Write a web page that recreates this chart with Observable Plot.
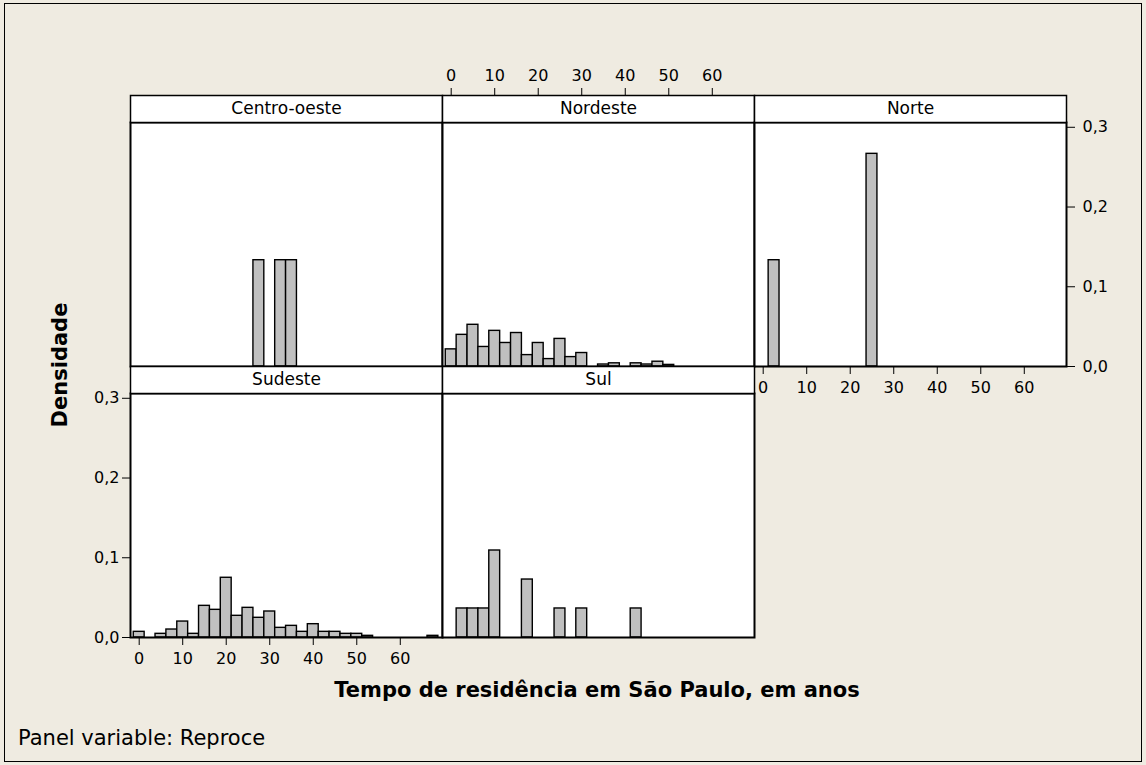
<!DOCTYPE html>
<html>
<head>
<meta charset="utf-8">
<script src="https://cdn.jsdelivr.net/npm/d3@7"></script>
<script src="https://cdn.jsdelivr.net/npm/@observablehq/plot@0.6"></script>
<style>
  html, body { margin: 0; padding: 0; background: #ffffff; }
  #chart { position: relative; width: 1146px; height: 765px; background: #EFEBE1; font-family: "DejaVu Sans", sans-serif; color: #000; overflow: hidden; }
  #border { position: absolute; left: 4px; top: 3px; width: 1136px; height: 757px; border: 1.5px solid #000; }
  .abs { position: absolute; white-space: nowrap; }
  svg { overflow: visible; }
  svg [aria-label*="axis"] text { font-size: 16px !important; font-family: "DejaVu Sans", sans-serif; fill: #000; }
</style>
</head>
<body>
<div id="chart"><div id="border"></div></div>
<script>
// ---- data ----
const panelNames = ["Centro-oeste", "Nordeste", "Norte", "Sudeste", "Sul"];
const binWidth = 2.5;

const centroOesteMid  = [27.5, 32.5, 35];
const centroOesteDens = [0.1333, 0.1333, 0.1333];

const nordesteMid  = [0, 2.5, 5, 7.5, 10, 12.5, 15, 17.5, 20, 22.5, 25, 27.5, 30, 32.5, 35, 37.5, 40, 42.5, 45, 47.5, 50];
const nordesteDens = [0.0215, 0.0397, 0.0523, 0.0245, 0.0447, 0.0295, 0.0420, 0.0143, 0.0295, 0.0093, 0.0346, 0.0118, 0.0169, 0, 0.0025, 0.0040, 0, 0.0040, 0.0025, 0.0060, 0.0020];

const norteMid  = [2.5, 25];
const norteDens = [0.1333, 0.2667];

const sudesteMid  = [0, 2.5, 5, 7.5, 10, 12.5, 15, 17.5, 20, 22.5, 25, 27.5, 30, 32.5, 35, 37.5, 40, 42.5, 45, 47.5, 50, 52.5, 55, 57.5, 60, 62.5, 65, 67.5];
const sudesteDens = [0.0071, 0, 0.0046, 0.0100, 0.0200, 0.0046, 0.0397, 0.0347, 0.0749, 0.0272, 0.0372, 0.0247, 0.0326, 0.0121, 0.0146, 0.0071, 0.0167, 0.0071, 0.0071, 0.0046, 0.0046, 0.0021, 0, 0, 0, 0, 0, 0.0021];

const sulMid  = [2.5, 5, 7.5, 10, 17.5, 25, 30, 42.5];
const sulDens = [0.0364, 0.0364, 0.0364, 0.1091, 0.0727, 0.0364, 0.0364, 0.0364];

const xTicks = [0, 10, 20, 30, 40, 50, 60];
const yTicks = [0, 0.1, 0.2, 0.3];
const xDomain = [-2, 69.7];
const yDomain = [0, 0.306];

const xTitle = "Tempo de residência em São Paulo, em anos";
const yTitle = "Densidade";
const footnote = "Panel variable: Reproce";

// ---- layout ----
const colLeft = [130, 442, 754];
const rowTop = [95, 366];
const panelW = 312, stripH = 27, plotH = 244;
const ml = 70, mr = 70, mt = 40, mb = 40;

const chart = document.getElementById("chart");
const fmtY = d => d.toFixed(1).replace(".", ",");

function toRows(mids, dens) {
  return mids.map((m, i) => ({mid: m, dens: dens[i]}));
}

function panel(name, mids, dens, col, row, xAxis, yAxis) {
  const data = toRows(mids, dens);
  const p = Plot.plot({
    width: panelW + ml + mr,
    height: stripH + plotH + mt + mb,
    marginLeft: ml, marginRight: mr, marginTop: mt, marginBottom: mb,
    style: {background: "transparent", fontFamily: "DejaVu Sans, sans-serif", fontSize: "16px", color: "#000", overflow: "visible"},
    x: {domain: xDomain, axis: xAxis, ticks: xTicks, tickSize: 8, tickPadding: 7, tickFormat: d => String(d), label: null},
    y: {domain: yDomain, insetTop: stripH, axis: yAxis, ticks: yTicks, tickSize: 8, tickPadding: yAxis === "right" ? 8 : 3, tickFormat: fmtY, label: null},
    marks: [
      Plot.frame({insetTop: stripH, fill: "white", stroke: "none"}),
      Plot.rectY(data, {x1: d => d.mid - binWidth / 2, x2: d => d.mid + binWidth / 2, y: "dens", fill: "#C0C0C0", stroke: "#000", strokeWidth: 1.4}),
      Plot.frame({insetTop: stripH, stroke: "#000", strokeWidth: 2}),
      Plot.frame({insetBottom: plotH, fill: "white", stroke: "#000", strokeWidth: 1.5}),
      Plot.text([name], {text: d => d, frameAnchor: "top", lineAnchor: "middle", dy: stripH / 2, fontSize: 17, fill: "#000"})
    ]
  });
  p.style.position = "absolute";
  p.style.left = (colLeft[col] - ml) + "px";
  p.style.top = (rowTop[row] - mt) + "px";
  chart.appendChild(p);
}

panel(panelNames[0], centroOesteMid, centroOesteDens, 0, 0, null, null);
panel(panelNames[1], nordesteMid, nordesteDens, 1, 0, "top", null);
panel(panelNames[2], norteMid, norteDens, 2, 0, "bottom", "right");
panel(panelNames[3], sudesteMid, sudesteDens, 0, 1, "bottom", "left");
panel(panelNames[4], sulMid, sulDens, 1, 1, null, null);

function addText(txt, css) {
  const d = document.createElement("div");
  d.className = "abs";
  d.textContent = txt;
  Object.assign(d.style, css);
  chart.appendChild(d);
  return d;
}

addText(xTitle, {left: "597px", top: "690px", transform: "translate(-50%, -50%)", fontWeight: "bold", fontSize: "21px"});
addText(yTitle, {left: "60px", top: "365px", transform: "translate(-50%, -50%) rotate(-90deg)", fontWeight: "bold", fontSize: "21px"});
addText(footnote, {left: "18px", top: "738px", transform: "translate(0, -50%)", fontSize: "21px"});
</script>
</body>
</html>
